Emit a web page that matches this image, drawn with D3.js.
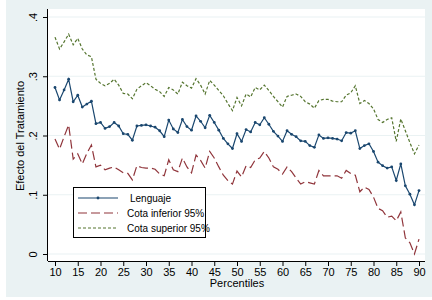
<!DOCTYPE html>
<html>
<head>
<meta charset="utf-8">
<script src="https://cdn.jsdelivr.net/npm/d3@7"></script>
<style>
  body { margin: 0; background: #fff; }
  svg { display: block; font-family: "Liberation Sans", Arial, sans-serif; }
</style>
</head>
<body>
<svg id="chart" width="432" height="300"></svg>
<script>
// percentiles 10..90
const percentiles = [10, 11, 12, 13, 14, 15, 16, 17, 18, 19, 20, 21, 22, 23, 24, 25, 26, 27, 28, 29,
  30, 31, 32, 33, 34, 35, 36, 37, 38, 39, 40, 41, 42, 43, 44, 45, 46, 47, 48, 49,
  50, 51, 52, 53, 54, 55, 56, 57, 58, 59, 60, 61, 62, 63, 64, 65, 66, 67, 68, 69,
  70, 71, 72, 73, 74, 75, 76, 77, 78, 79, 80, 81, 82, 83, 84, 85, 86, 87, 88, 89, 90];

const lenguaje = [.281, .260, .277, .295, .257, .268, .248, .253, .258, .220,
  .222, .212, .215, .222, .216, .203, .202, .192, .216, .217,
  .218, .216, .214, .208, .198, .226, .211, .205, .227, .215,
  .209, .233, .224, .213, .234, .222, .209, .195, .186, .178,
  .203, .190, .210, .206, .222, .218, .230, .219, .207, .199,
  .190, .208, .202, .198, .191, .190, .183, .180, .201, .195,
  .196, .195, .194, .191, .205, .204, .208, .178, .183, .186,
  .173, .155, .149, .145, .147, .124, .152, .115, .101, .083, .107];

const cotaInferior = [.194, .177, .198, .218, .160, .169, .152, .170, .184, .147,
  .150, .142, .145, .147, .142, .137, .136, .125, .149, .146,
  .145, .145, .143, .135, .132, .159, .142, .139, .162, .147,
  .137, .167, .158, .145, .173, .162, .147, .133, .124, .118,
  .140, .130, .149, .146, .159, .162, .173, .162, .147, .143,
  .135, .147, .139, .128, .118, .122, .120, .118, .141, .132,
  .132, .132, .132, .128, .141, .136, .133, .105, .113, .109,
  .096, .077, .073, .062, .064, .056, .071, .027, .019, .000, .025];

const cotaSuperior = [.366, .346, .358, .371, .353, .364, .346, .336, .333, .295,
  .288, .284, .288, .295, .285, .271, .270, .262, .278, .284,
  .289, .284, .278, .274, .266, .281, .277, .270, .290, .284,
  .280, .296, .285, .270, .293, .285, .276, .267, .254, .242,
  .264, .250, .270, .265, .281, .277, .285, .276, .266, .257,
  .248, .266, .268, .270, .266, .257, .253, .246, .259, .261,
  .261, .258, .257, .257, .268, .272, .284, .254, .259, .254,
  .245, .227, .222, .227, .230, .190, .228, .208, .188, .169, .184];

const xTicks = [10, 15, 20, 25, 30, 35, 40, 45, 50, 55, 60, 65, 70, 75, 80, 85, 90];
const yTicks = [0, .1, .2, .3, .4];
const yTickLabels = ["0", ".1", ".2", ".3", ".4"];
const seriesNames = ["Lenguaje", "Cota inferior 95%", "Cota superior 95%"];

const W = 432, H = 300;
const bgColor = "#eaf2f3";
const colors = ["#1a476f", "#90353b", "#55752f"];
const dashes = [null, "9,4", "3,2"];

const plot = { left: 48, right: 425, top: 9, bottom: 261 };

const x = d3.scaleLinear().domain([10, 90]).range([55, 419]);
const y = d3.scaleLinear().domain([0, .4]).range([254, 17]);

const svg = d3.select("#chart");

// graph region + plot region
svg.append("rect")
  .attr("x", 6).attr("y", 0)
  .attr("width", W - 6).attr("height", 297)
  .attr("fill", bgColor);

svg.append("rect")
  .attr("x", plot.left).attr("y", plot.top)
  .attr("width", plot.right - plot.left).attr("height", plot.bottom - plot.top)
  .attr("fill", "#fff");

// grid lines
svg.append("g")
  .selectAll("line")
  .data(yTicks)
  .enter().append("line")
    .attr("x1", plot.left).attr("x2", plot.right)
    .attr("y1", d => y(d)).attr("y2", d => y(d))
    .attr("stroke", bgColor)
    .attr("stroke-width", 1.2);

// axes
const xAxis = svg.append("g")
  .attr("transform", `translate(0, ${plot.bottom})`)
  .call(d3.axisBottom(x).tickValues(xTicks).tickSize(5).tickPadding(2).tickSizeOuter(0));
xAxis.select(".domain").attr("d", `M${plot.left},0.5H${plot.right}`).attr("stroke", "#000");
xAxis.selectAll("text").attr("font-size", 11).attr("fill", "#000")
  .attr("font-family", "Liberation Sans, Arial, sans-serif");

const yAxis = svg.append("g")
  .attr("transform", `translate(${plot.left}, 0)`)
  .call(d3.axisLeft(y).tickValues(yTicks).tickFormat((d, i) => yTickLabels[i]).tickSize(5).tickSizeOuter(0));
yAxis.select(".domain").attr("d", `M-0.5,${plot.top}V${plot.bottom}`).attr("stroke", "#000");
yAxis.selectAll("text")
  .attr("font-size", 11).attr("fill", "#000")
  .attr("font-family", "Liberation Sans, Arial, sans-serif")
  .attr("x", null).attr("dy", null)
  .attr("text-anchor", "middle")
  .attr("transform", "translate(-11, 0) rotate(-90)");

// axis titles
svg.append("text")
  .attr("x", 237).attr("y", 287)
  .attr("text-anchor", "middle")
  .attr("font-size", 11)
  .text("Percentiles");

svg.append("text")
  .attr("transform", `translate(24, 136) rotate(-90)`)
  .attr("text-anchor", "middle")
  .attr("font-size", 11)
  .text("Efecto del Tratamiento");

// series
const allSeries = [lenguaje, cotaInferior, cotaSuperior];
const line = d3.line()
  .x((d, i) => x(percentiles[i]))
  .y(d => y(d));

const lines = svg.append("g");
allSeries.forEach((s, k) => {
  lines.append("path")
    .datum(s)
    .attr("d", line)
    .attr("fill", "none")
    .attr("stroke", colors[k])
    .attr("stroke-width", 1.2)
    .attr("stroke-dasharray", dashes[k]);
});

lines.append("g")
  .selectAll("circle")
  .data(lenguaje)
  .enter().append("circle")
    .attr("cx", (d, i) => x(percentiles[i]))
    .attr("cy", d => y(d))
    .attr("r", 1.4)
    .attr("fill", colors[0]);

// legend
const legend = svg.append("g").attr("transform", "translate(73, 187)");
legend.append("rect")
  .attr("x", 0.5).attr("y", 0.5)
  .attr("width", 132).attr("height", 50)
  .attr("fill", "#fff")
  .attr("stroke", "#000")
  .attr("stroke-width", 1);

const items = legend.selectAll("g.item")
  .data(seriesNames)
  .enter().append("g")
    .attr("class", "item")
    .attr("transform", (d, i) => `translate(0, ${11 + i * 15})`);

items.append("line")
  .attr("x1", 5).attr("x2", 45)
  .attr("y1", 0).attr("y2", 0)
  .attr("stroke", (d, i) => colors[i])
  .attr("stroke-width", 1.2)
  .attr("stroke-dasharray", (d, i) => dashes[i]);

items.filter((d, i) => i === 0)
  .append("circle")
  .attr("cx", 25).attr("cy", 0).attr("r", 1.4)
  .attr("fill", colors[0]);

items.append("text")
  .attr("x", (d, i) => i === 0 ? 57 : 54)
  .attr("y", 0)
  .attr("dy", "0.35em")
  .attr("font-size", 10)
  .text(d => d);
</script>
</body>
</html>
